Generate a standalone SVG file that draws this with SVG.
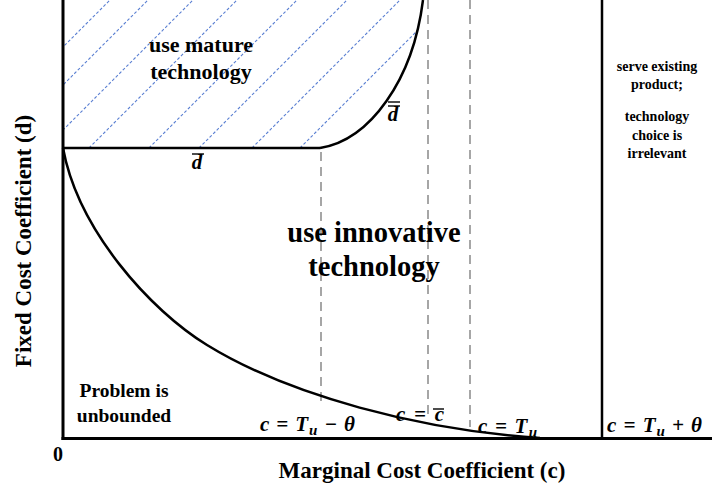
<svg xmlns="http://www.w3.org/2000/svg" width="712" height="490" viewBox="0 0 712 490">
  <style>
    .lbl { font-family: "Liberation Serif", "Times New Roman", serif; font-weight: bold; fill: #000; }
    .math { font-family: "Liberation Serif", "Times New Roman", serif; font-weight: bold; font-style: italic; fill: #000; }
    .axis { stroke: #000; stroke-width: 3; fill: none; }
    .curve { stroke: #000; stroke-width: 2.5; fill: none; }
    .guide { stroke: #a6a6a6; stroke-width: 2; stroke-dasharray: 9 6; fill: none; }
    .hatch { stroke: #5a7fd2; stroke-width: 1.1; stroke-dasharray: 3 2; fill: none; }
    .bar { stroke: #000; stroke-width: 1.4; }
  </style>
  <defs>
    <clipPath id="matureClip">
      <path d="M63,0 L423,0 C413,80 370,140 320,148 L63,148 Z"/>
    </clipPath>
  </defs>

  <rect width="712" height="490" fill="#fff"/>

  <!-- hatched region: use mature technology -->
  <g id="mature-region">
    <g clip-path="url(#matureClip)">
      <line class="hatch" x1="-38" y1="148" x2="110" y2="0"/>
      <line class="hatch" x1="0" y1="148" x2="148" y2="0"/>
      <line class="hatch" x1="45" y1="148" x2="193" y2="0"/>
      <line class="hatch" x1="89" y1="148" x2="237" y2="0"/>
      <line class="hatch" x1="149" y1="148" x2="297" y2="0"/>
      <line class="hatch" x1="199" y1="148" x2="347" y2="0"/>
      <line class="hatch" x1="252" y1="148" x2="400" y2="0"/>
      <line class="hatch" x1="300" y1="148" x2="448" y2="0"/>
      <line class="hatch" x1="352" y1="148" x2="500" y2="0"/>
    </g>
    <text class="lbl" font-size="22" x="201" y="52" text-anchor="middle">use mature</text>
    <text class="lbl" font-size="22" x="201" y="79" text-anchor="middle">technology</text>
  </g>

  <!-- guides and boundary curves -->
  <g id="connectors">
    <line class="guide" x1="321" y1="152" x2="321" y2="402"/>
    <line class="guide" x1="428" y1="0" x2="428" y2="417"/>
    <line class="guide" x1="470" y1="0" x2="470" y2="427"/>

    <line class="curve" x1="63" y1="148" x2="320" y2="148"/>
    <path class="curve" d="M320,148 C370,140 413,80 423,0"/>
    <path class="curve" d="M63,148 C78,230 150,310 207,345 C290,396 420,430 540,438"/>
    <line class="curve" x1="602" y1="0" x2="602" y2="438"/>

    <line class="axis" x1="63" y1="0" x2="63" y2="440"/>
    <line class="axis" x1="61.5" y1="438.5" x2="712" y2="438.5"/>
  </g>

  <!-- boundary labels -->
  <g id="dbar-label">
    <text class="math" font-size="21" x="197" y="169" text-anchor="middle">d</text>
    <line class="bar" x1="192" y1="154" x2="204" y2="154"/>
  </g>
  <g id="dbarbar-label">
    <text class="math" font-size="21" x="393" y="121" text-anchor="middle">d</text>
    <line class="bar" x1="388" y1="102" x2="400" y2="102"/>
    <line class="bar" x1="388" y1="106" x2="400" y2="106"/>
  </g>

  <g id="innovative-region">
    <text class="lbl" font-size="28.5" x="374" y="242" text-anchor="middle">use innovative</text>
    <text class="lbl" font-size="28.5" x="374" y="276" text-anchor="middle">technology</text>
  </g>

  <g id="existing-region">
    <text class="lbl" font-size="14" x="657" y="71" text-anchor="middle">serve existing</text>
    <text class="lbl" font-size="14" x="657" y="89" text-anchor="middle">product;</text>
    <text class="lbl" font-size="14" x="657" y="121" text-anchor="middle">technology</text>
    <text class="lbl" font-size="14" x="657" y="140" text-anchor="middle">choice is</text>
    <text class="lbl" font-size="14" x="657" y="158" text-anchor="middle">irrelevant</text>
  </g>

  <g id="unbounded-region">
    <text class="lbl" font-size="19.5" x="124" y="397" text-anchor="middle">Problem is</text>
    <text class="lbl" font-size="19.5" x="124" y="422" text-anchor="middle">unbounded</text>
  </g>

  <!-- threshold labels on the c axis -->
  <g id="c-Tu-minus-theta">
    <text class="math" font-size="21" x="260" y="431" textLength="95" lengthAdjust="spacing">c = T<tspan font-size="15" dy="4">u</tspan><tspan dy="-4"> − θ</tspan></text>
  </g>
  <g id="c-cbar">
    <text class="math" font-size="21" x="396" y="421" textLength="48" lengthAdjust="spacing">c = c</text>
    <line class="bar" x1="433" y1="409" x2="444" y2="409"/>
  </g>
  <g id="c-Tu">
    <text class="math" font-size="21" x="478" y="433" textLength="59" lengthAdjust="spacing">c = T<tspan font-size="15" dy="4">u</tspan></text>
  </g>
  <g id="c-Tu-plus-theta">
    <text class="math" font-size="21" x="607" y="432" textLength="95" lengthAdjust="spacing">c = T<tspan font-size="15" dy="4">u</tspan><tspan dy="-4"> + θ</tspan></text>
  </g>

  <!-- axis titles -->
  <g id="axis-titles">
    <text class="lbl" font-size="20" x="58" y="461" text-anchor="middle">0</text>
    <text class="lbl" font-size="23" x="422" y="478" text-anchor="middle">Marginal Cost Coefficient (c)</text>
    <text class="lbl" font-size="23" text-anchor="middle" transform="translate(31,241) rotate(-90)">Fixed Cost Coefficient (d)</text>
  </g>
</svg>
